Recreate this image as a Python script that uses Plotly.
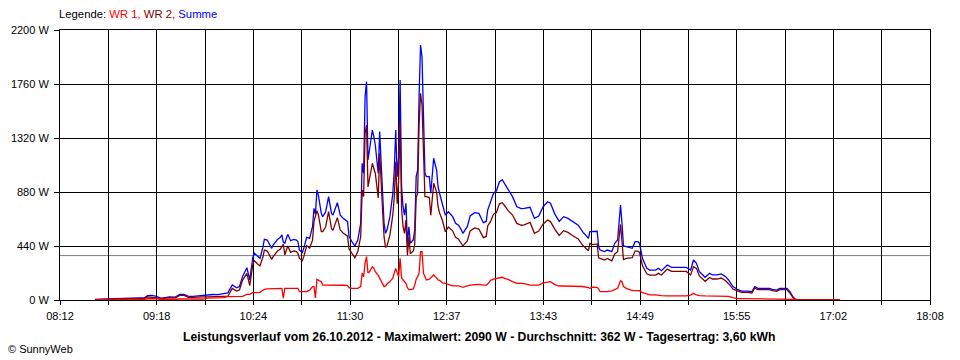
import numpy as np
import plotly.graph_objects as go

# ---------------- data ----------------
times = [
    "08:36", "08:39", "08:43", "08:46", "08:50", "08:53", "08:57", "09:00", "09:03", "09:07",
    "09:10", "09:12", "09:15", "09:18", "09:21", "09:24", "09:27", "09:31", "09:34", "09:37",
    "09:40", "09:43", "09:47", "09:50", "09:53", "09:57", "10:00", "10:04", "10:07", "10:10",
    "10:13", "10:15", "10:17", "10:20", "10:22", "10:24", "10:25", "10:27", "10:29", "10:31",
    "10:32", "10:34", "10:37", "10:38", "10:41", "10:43", "10:44", "10:45", "10:46", "10:48",
    "10:50", "10:52", "10:54", "10:55", "10:56", "10:58", "10:59", "11:01", "11:03", "11:05",
    "11:06", "11:07", "11:08", "11:09", "11:11", "11:12", "11:14", "11:16", "11:18", "11:19",
    "11:22", "11:24", "11:26", "11:29", "11:30", "11:32", "11:34", "11:36", "11:38", "11:39",
    "11:40", "11:41", "11:42", "11:43", "11:44", "11:45", "11:46", "11:47", "11:48", "11:50",
    "11:51", "11:53", "11:54", "11:55", "11:56", "11:58", "12:00", "12:01", "12:02", "12:03",
    "12:04", "12:05", "12:06", "12:07", "12:08", "12:09", "12:10", "12:11", "12:12", "12:14",
    "12:15", "12:16", "12:17", "12:18", "12:19", "12:20", "12:21", "12:22", "12:23", "12:25",
    "12:26", "12:28", "12:30", "12:31", "12:32", "12:34", "12:36", "12:38", "12:41", "12:43",
    "12:45", "12:47", "12:48", "12:51", "12:53", "12:56", "12:59", "13:02", "13:04", "13:05",
    "13:07", "13:09", "13:11", "13:13", "13:15", "13:17", "13:19", "13:22", "13:25", "13:28",
    "13:30", "13:34", "13:37", "13:40", "13:43", "13:46", "13:48", "13:51", "13:54", "13:57",
    "14:00", "14:03", "14:07", "14:10", "14:14", "14:15", "14:17", "14:20", "14:21", "14:22",
    "14:25", "14:27", "14:30", "14:32", "14:34", "14:36", "14:37", "14:38", "14:40", "14:44",
    "14:46", "14:48", "14:49", "14:51", "14:54", "14:56", "15:00", "15:02", "15:04", "15:08",
    "15:11", "15:17", "15:21", "15:24", "15:26", "15:28", "15:30", "15:34", "15:37", "15:39",
    "15:42", "15:45", "15:48", "15:50", "15:53", "15:56", "15:59", "16:03", "16:06", "16:08",
    "16:10", "16:15", "16:18", "16:20", "16:23", "16:25", "16:30", "16:32", "16:34", "16:36",
    "16:39", "16:46", "16:53", "17:00", "17:06",
]

summe = [
    5, 6, 8, 12, 14, 12, 18, 16, 14, 18,
    20, 35, 38, 30, 15, 20, 25, 24, 45, 46,
    30, 30, 35, 33, 42, 45, 44, 52, 58, 122,
    100, 110, 190, 263, 163, 342, 383, 360, 340, 430,
    494, 489, 421, 448, 494, 511, 530, 470, 462, 535,
    483, 494, 489, 475, 407, 388, 421, 511, 502, 597,
    747, 700, 896, 855, 706, 679, 719, 842, 706, 692,
    793, 692, 665, 638, 516, 475, 440, 489, 625, 1114,
    1032, 1657, 1779, 1141, 1222, 1277, 1385, 1331, 1263, 1032,
    1372, 870, 625, 543, 570, 679, 870, 1059, 1385, 1005,
    1168, 1793, 923, 760, 692, 788, 462, 597, 462, 489,
    570, 1005, 1059, 1657, 2078, 1982, 1412, 1032, 1005, 1005,
    870, 1155, 1059, 923, 870, 788, 692, 719, 679, 625,
    610, 570, 543, 597, 685, 712, 706, 630, 640, 733,
    800, 870, 890, 964, 978, 937, 896, 842, 760, 745,
    747, 755, 665, 684, 760, 801, 788, 700, 640, 679,
    665, 640, 610, 557, 502, 557, 557, 560, 434, 407,
    394, 407, 394, 462, 489, 774, 625, 440, 434, 421,
    475, 475, 462, 340, 258, 244, 244, 258, 239, 285,
    266, 266, 266, 244, 326, 299, 231, 185, 217, 204,
    204, 212, 190, 163, 109, 87, 73, 73, 68, 109,
    95, 95, 95, 87, 81, 95, 95, 68, 27, 3,
    2, 2, 2, 2, 2,
]

wr1 = [
    2, 2, 3, 3, 4, 4, 4, 5, 5, 5,
    6, 10, 14, 12, 6, 5, 5, 6, 8, 8,
    8, 8, 8, 8, 16, 16, 16, 20, 27, 27,
    27, 27, 30, 46, 46, 60, 60, 62, 62, 80,
    87, 90, 90, 95, 95, 95, 95, 16, 95, 95,
    95, 95, 95, 95, 68, 68, 68, 68, 80, 109,
    109, 16, 168, 160, 149, 122, 122, 122, 125, 125,
    122, 122, 120, 118, 100, 95, 95, 95, 110, 217,
    190, 300, 353, 220, 230, 250, 271, 260, 230, 200,
    177, 140, 109, 115, 130, 150, 177, 220, 258, 220,
    190, 340, 180, 163, 150, 136, 100, 85, 85, 90,
    120, 170, 190, 220, 394, 394, 217, 190, 163, 170,
    180, 204, 180, 163, 160, 140, 136, 125, 115, 115,
    115, 108, 103, 115, 122, 125, 128, 122, 122, 130,
    160, 170, 177, 180, 185, 175, 168, 150, 136, 136,
    134, 122, 122, 122, 140, 149, 149, 125, 114, 114,
    114, 114, 112, 110, 100, 95, 105, 103, 90, 68,
    68, 68, 75, 87, 95, 157, 149, 110, 95, 76,
    76, 76, 76, 60, 45, 41, 41, 41, 35, 33,
    33, 33, 33, 40, 54, 41, 35, 33, 33, 33,
    33, 33, 33, 30, 20, 12, 11, 11, 11, 11,
    11, 11, 11, 11, 11, 11, 11, 11, 5, 0,
    0, 0, 0, 0, 0,
]

wr2 = [
    3, 4, 5, 9, 10, 8, 14, 11, 9, 13,
    14, 25, 24, 18, 9, 15, 20, 18, 37, 38,
    22, 22, 27, 25, 26, 29, 28, 32, 31, 95,
    73, 83, 160, 217, 117, 282, 323, 298, 278, 350,
    407, 399, 331, 353, 399, 416, 435, 454, 367, 440,
    388, 399, 394, 380, 339, 320, 353, 443, 422, 488,
    638, 684, 728, 695, 557, 557, 597, 720, 581, 567,
    671, 570, 545, 520, 416, 380, 345, 394, 515, 897,
    842, 1357, 1426, 921, 992, 1027, 1114, 1071, 1033, 832,
    1195, 730, 516, 428, 440, 529, 693, 839, 1127, 785,
    978, 1453, 743, 597, 542, 652, 362, 512, 377, 399,
    450, 835, 869, 1437, 1684, 1588, 1195, 842, 842, 835,
    690, 951, 879, 760, 710, 648, 556, 594, 564, 510,
    495, 462, 440, 482, 563, 587, 578, 508, 518, 603,
    640, 700, 713, 784, 793, 762, 728, 692, 624, 609,
    613, 633, 543, 562, 620, 652, 639, 575, 526, 565,
    551, 526, 498, 447, 402, 462, 452, 457, 344, 339,
    326, 339, 319, 375, 394, 617, 476, 330, 339, 345,
    399, 399, 386, 280, 213, 203, 203, 217, 204, 252,
    233, 233, 233, 204, 272, 258, 196, 152, 184, 171,
    171, 179, 157, 133, 89, 75, 62, 62, 57, 98,
    84, 84, 84, 76, 70, 84, 84, 57, 22, 3,
    2, 2, 2, 2, 2,
]

x_labels = ["08:12", "09:18", "10:24", "11:30", "12:37",
            "13:43", "14:49", "15:55", "17:02", "18:08"]
y_max = 2200
y_step = 440
y_unit = " W"
average_w = 362

title_text = ("Leistungsverlauf vom 26.10.2012 - Maximalwert: 2090 W - "
              "Durchschnitt: 362 W - Tagesertrag: 3,60 kWh")

# ---------------- helpers ----------------
def to_min(s):
    h, m = s.split(":")
    return int(h) * 60 + int(m)

x = [to_min(t) for t in times]
x0, x1 = to_min(x_labels[0]), to_min(x_labels[-1])
n_minor = 2 * (len(x_labels) - 1)
tickvals = list(np.linspace(x0, x1, n_minor + 1))
ticktext = []
for i in range(n_minor + 1):
    ticktext.append(x_labels[i // 2] if i % 2 == 0 else "")

y_tickvals = list(range(0, y_max + 1, y_step))
y_ticktext = [f"{v}{y_unit}" for v in y_tickvals]

C_WR1 = "#FF0000"
C_WR2 = "#800000"
C_SUM = "#0000FF"
FONT = "Liberation Sans, Arial, sans-serif"

# page body has an 8px margin: figure is sized/placed to compensate
W, H = 952, 352
ML, MR, MT, MB = 52, 30, 22, 60
PW = W - ML - MR
PH = H - MT - MB

fig = go.Figure()
fig.add_trace(go.Scatter(x=x, y=summe, mode="lines", name="Summe",
                         line=dict(color=C_SUM, width=1.3)))
fig.add_trace(go.Scatter(x=x, y=wr2, mode="lines", name="WR 2",
                         line=dict(color=C_WR2, width=1.3)))
fig.add_trace(go.Scatter(x=x, y=wr1, mode="lines", name="WR 1",
                         line=dict(color=C_WR1, width=1.3)))

fig.add_shape(type="line", xref="paper", x0=0, x1=1, yref="y",
              y0=average_w, y1=average_w, line=dict(color="#808080", width=1),
              layer="below")

fig.update_layout(
    width=W, height=H,
    margin=dict(l=ML, r=MR, t=MT, b=MB, pad=0, autoexpand=False),
    paper_bgcolor="white", plot_bgcolor="white",
    showlegend=False,
    font=dict(family=FONT, size=11, color="black"),
    xaxis=dict(range=[x0, x1], tickvals=tickvals, ticktext=ticktext,
               showgrid=True, gridcolor="black", gridwidth=1,
               ticks="outside", ticklen=4, tickcolor="black", tickwidth=1,
               showline=True, linecolor="black", linewidth=1, mirror=True,
               zeroline=False, tickfont=dict(size=11, family=FONT),
               ticklabelstandoff=2, automargin=False),
    yaxis=dict(range=[0, y_max], tickvals=y_tickvals, ticktext=y_ticktext,
               showgrid=True, gridcolor="black", gridwidth=1,
               ticks="outside", ticklen=5, tickcolor="black", tickwidth=1,
               showline=True, linecolor="black", linewidth=1, mirror=True,
               zeroline=False, tickfont=dict(size=11, family=FONT),
               ticklabelstandoff=3, automargin=False),
)

legend_html = ("Legende: <span style='color:%s'>WR 1,</span> "
               "<span style='color:%s'>WR 2,</span> "
               "<span style='color:%s'>Summe</span>") % (C_WR1, C_WR2, C_SUM)
fig.add_annotation(text=legend_html, xref="paper", yref="paper",
                   x=-3 / PW, y=1 + 16 / PH, xanchor="left", yanchor="middle",
                   showarrow=False, font=dict(size=11.3, family=FONT))
fig.add_annotation(text="<b>" + title_text + "</b>", xref="paper", yref="paper",
                   x=(479 - 60) / PW, y=-37 / PH, xanchor="center",
                   yanchor="middle", showarrow=False,
                   font=dict(size=12.2, family=FONT))
fig.add_annotation(text="© SunnyWeb", xref="paper", yref="paper",
                   x=(6 - 60) / PW, y=-49 / PH, xanchor="left",
                   yanchor="middle", showarrow=False,
                   font=dict(size=11, family=FONT))

fig.write_html("out.html")
